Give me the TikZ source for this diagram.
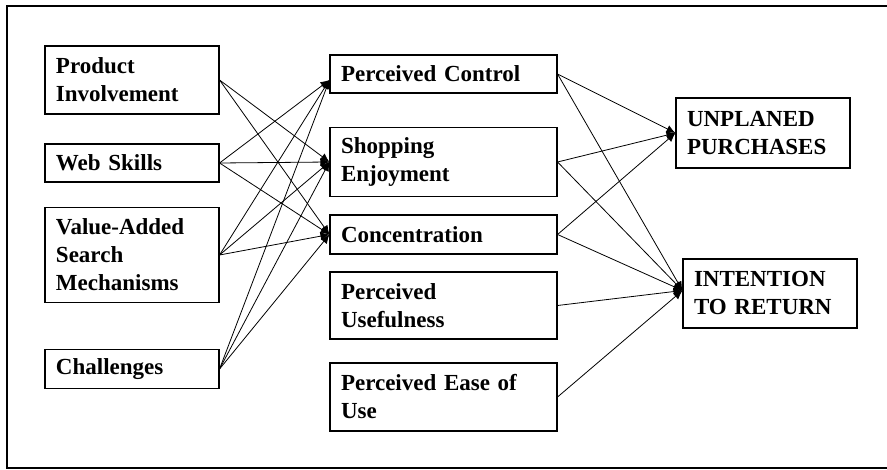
\documentclass[tikz,border=0pt]{standalone}
\usepackage{fontspec}
\setmainfont{Liberation Serif}
\usetikzlibrary{arrows.meta,calc}
\begin{document}
\begin{tikzpicture}[x=1pt,y=-1pt,
  box/.style={draw,line width=1.1pt,inner xsep=11pt,inner ysep=0pt,align=left,
    font=\fontsize{23}{28}\selectfont\bfseries},
  lbox/.style={box,minimum width=174pt,text width=152pt},
  mbox/.style={box,minimum width=227pt,text width=205pt},
  link/.style={line width=0.8pt,-{Latex[length=9pt,width=8pt]}}]
\useasboundingbox (0,0) rectangle (887,470);
\draw[line width=1.3pt] (887,6) -- (7,6) -- (7,468) -- (887,468);
% left column
\node[lbox,minimum height=68pt] (PI) at (132,80) {Product\\Involvement};
\node[lbox,minimum height=38pt] (WS) at (132,163) {Web Skills};
\node[lbox,minimum height=95pt] (VA) at (132,255) {Value-Added\\Search\\Mechanisms};
\node[lbox,minimum height=39pt] (CH) at (132,369) {Challenges};
% middle column
\node[mbox,minimum height=38pt] (PC) at (443.5,74) {Perceived Control};
\node[mbox,minimum height=69pt] (SE) at (443.5,162) {Shopping\\Enjoyment};
\node[mbox,minimum height=39pt] (CO) at (443.5,234.5) {Concentration};
\node[mbox,minimum height=67pt] (PU) at (443.5,305.5) {Perceived\\Usefulness};
\node[mbox,minimum height=68pt] (PE) at (443.5,397) {Perceived Ease of\\Use};
% right column
\node[lbox,minimum height=70pt] (UP) at (763,133) {UNPLANED\\PURCHASES};
\node[lbox,minimum height=69pt] (IR) at (770,293.5) {INTENTION\\TO RETURN};
% targets
\coordinate (PCin) at ($(PC.west)+(0,6)$);
\coordinate (IRin) at ($(IR.west)+(0,-3)$);
% left -> middle
\draw[link] (PI.east) -- (SE.west);
\draw[link] (PI.east) -- (CO.west);
\draw[link] (WS.east) -- (PCin);
\draw[link] (WS.east) -- (SE.west);
\draw[link] (WS.east) -- (CO.west);
\draw[link] (VA.east) -- (PCin);
\draw[link] (VA.east) -- (SE.west);
\draw[link] (VA.east) -- (CO.west);
\draw[link] (CH.east) -- (PCin);
\draw[link] (CH.east) -- (SE.west);
\draw[link] (CH.east) -- (CO.west);
% middle -> right
\draw[link] (PC.east) -- (UP.west);
\draw[link] (PC.east) -- (IRin);
\draw[link] (SE.east) -- (UP.west);
\draw[link] (SE.east) -- (IRin);
\draw[link] (CO.east) -- (UP.west);
\draw[link] (CO.east) -- (IRin);
\draw[link] (PU.east) -- (IRin);
\draw[link] (PE.east) -- (IRin);
\end{tikzpicture}
\end{document}
